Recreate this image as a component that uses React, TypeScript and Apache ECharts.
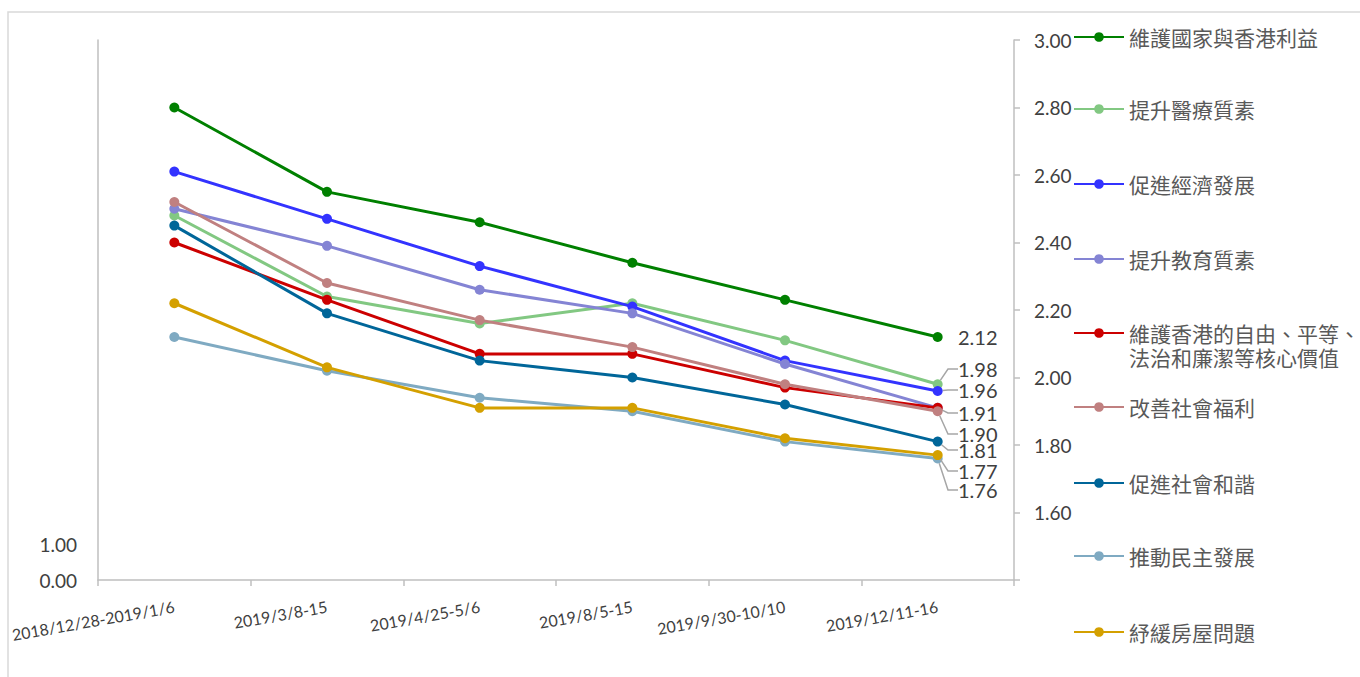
import React, { useEffect, useRef } from "react";
import * as echarts from "echarts";

const categories = [
  "2018/12/28-2019/1/6",
  "2019/3/8-15",
  "2019/4/25-5/6",
  "2019/8/5-15",
  "2019/9/30-10/10",
  "2019/12/11-16",
];

const seriesNames = [
  "維護國家與香港利益",
  "提升醫療質素",
  "促進經濟發展",
  "提升教育質素",
  "維護香港的自由、平等、\n法治和廉潔等核心價值",
  "改善社會福利",
  "促進社會和諧",
  "推動民主發展",
  "紓緩房屋問題",
];

const nationalInterest = [2.8, 2.55, 2.46, 2.34, 2.23, 2.12];
const medical = [2.48, 2.24, 2.16, 2.22, 2.11, 1.98];
const economy = [2.61, 2.47, 2.33, 2.21, 2.05, 1.96];
const education = [2.5, 2.39, 2.26, 2.19, 2.04, 1.91];
const coreValues = [2.4, 2.23, 2.07, 2.07, 1.97, 1.91];
const welfare = [2.52, 2.28, 2.17, 2.09, 1.98, 1.9];
const harmony = [2.45, 2.19, 2.05, 2.0, 1.92, 1.81];
const democracy = [2.12, 2.02, 1.94, 1.9, 1.81, 1.76];
const housing = [2.22, 2.03, 1.91, 1.91, 1.82, 1.77];

const seriesValues = [
  nationalInterest,
  medical,
  economy,
  education,
  coreValues,
  welfare,
  harmony,
  democracy,
  housing,
];

const colors = [
  "#008000",
  "#82c882",
  "#3333ff",
  "#8484d4",
  "#cc0000",
  "#c08080",
  "#006699",
  "#7faac2",
  "#d4a000",
];

// label placement (pixel layout) for last-point labels; null = no label
const labelY: (number | null)[] = [337, 369, 390, null, 413, 434, 450, 490, 471];
const legendCenters = [37, 109, 184, 259, 333, 407, 483, 556, 632];

const NUM_FONT = "Lato, 'Noto Sans CJK TC', sans-serif";
const CJK_FONT = "'Noto Sans CJK TC', 'Noto Sans CJK SC', sans-serif";

export default function App() {
  const ref = useRef<HTMLDivElement>(null);

  useEffect(() => {
    if (!ref.current) return;
    const chart = echarts.init(ref.current, undefined, { renderer: "svg" });
    const last = categories.length - 1;

    const series = seriesNames.map((name, i) => {
      const ly = labelY[i];
      return {
        name,
        type: "line",
        yAxisIndex: 1,
        symbol: "circle",
        symbolSize: 10,
        lineStyle: { width: 3, color: colors[i] },
        itemStyle: { color: colors[i] },
        data: seriesValues[i].map((v, j) =>
          j === last && ly !== null
            ? { value: v, label: { show: true } }
            : v
        ),
        label: {
          show: false,
          formatter: (p: any) => Number(p.value).toFixed(2),
          color: "#404040",
          fontSize: 20,
          lineHeight: 16,
          fontFamily: NUM_FONT,
        },
        labelLine: {
          show: i !== 0,
          length2: 10,
          lineStyle: { color: "#a6a6a6", width: 1.5 },
        },
        labelLayout: (params: any) =>
          params.dataIndex === last && ly !== null
            ? { x: 958, y: ly, align: "left", verticalAlign: "middle" }
            : {},
        z: 2 + i,
      };
    });

    const legends = seriesNames.map((name, i) => {
      const twoLine = name.indexOf("\n") >= 0;
      return {
        data: [name],
        left: 1073,
        top: twoLine ? legendCenters[i] - 36 : legendCenters[i] - 12,
        orient: "vertical",
        padding: 0,
        itemWidth: 50,
        itemHeight: 12,
        itemGap: 5,
        selectedMode: false,
        formatter: (n: string) => (twoLine ? "\n" + n : n),
        textStyle: {
          color: "#595959",
          fontSize: 21,
          lineHeight: 24,
          fontFamily: CJK_FONT,
        },
      };
    });

    chart.setOption({
      animation: false,
      backgroundColor: "#ffffff",
      graphic: [
        {
          type: "rect",
          shape: { x: 8, y: 12, width: 1400, height: 700 },
          style: { fill: "none", stroke: "#d9d9d9", lineWidth: 1.5 },
          z: -1,
        },
      ],
      legend: legends,
      grid: { left: 98, right: 346, top: 40, bottom: 97, containLabel: false },
      xAxis: {
        type: "category",
        data: categories,
        boundaryGap: true,
        axisLine: { show: true, lineStyle: { color: "#bfbfbf", width: 1.5 } },
        axisTick: { show: true, length: 6, lineStyle: { color: "#bfbfbf", width: 1.5 } },
        axisLabel: {
          interval: 0,
          rotate: 10,
          margin: 26,
          color: "#404040",
          fontSize: 16,
          fontFamily: NUM_FONT,
        },
        splitLine: { show: false },
      },
      yAxis: [
        {
          type: "value",
          position: "left",
          min: 0,
          max: 15,
          interval: 1,
          axisLine: { show: true, lineStyle: { color: "#bfbfbf", width: 1.5 } },
          axisTick: { show: false },
          splitLine: { show: false },
          axisLabel: {
            margin: 21,
            color: "#404040",
            fontSize: 19,
            fontFamily: NUM_FONT,
            formatter: (v: number) => (v <= 1 ? v.toFixed(2) : ""),
          },
        },
        {
          type: "value",
          position: "right",
          min: 1.4,
          max: 3.0,
          interval: 0.2,
          axisLine: { show: true, lineStyle: { color: "#bfbfbf", width: 1.5 } },
          axisTick: { show: true, length: 6, lineStyle: { color: "#bfbfbf", width: 1.5 } },
          splitLine: { show: false },
          axisLabel: {
            margin: 20,
            color: "#404040",
            fontSize: 19,
            fontFamily: NUM_FONT,
            formatter: (v: number) => (Math.abs(v - 1.4) < 1e-6 ? "" : v.toFixed(2)),
          },
        },
      ],
      series,
    });

    return () => chart.dispose();
  }, []);

  return (
    <div
      ref={ref}
      style={{ position: "absolute", left: 0, top: 0, width: 1360, height: 677 }}
    />
  );
}
